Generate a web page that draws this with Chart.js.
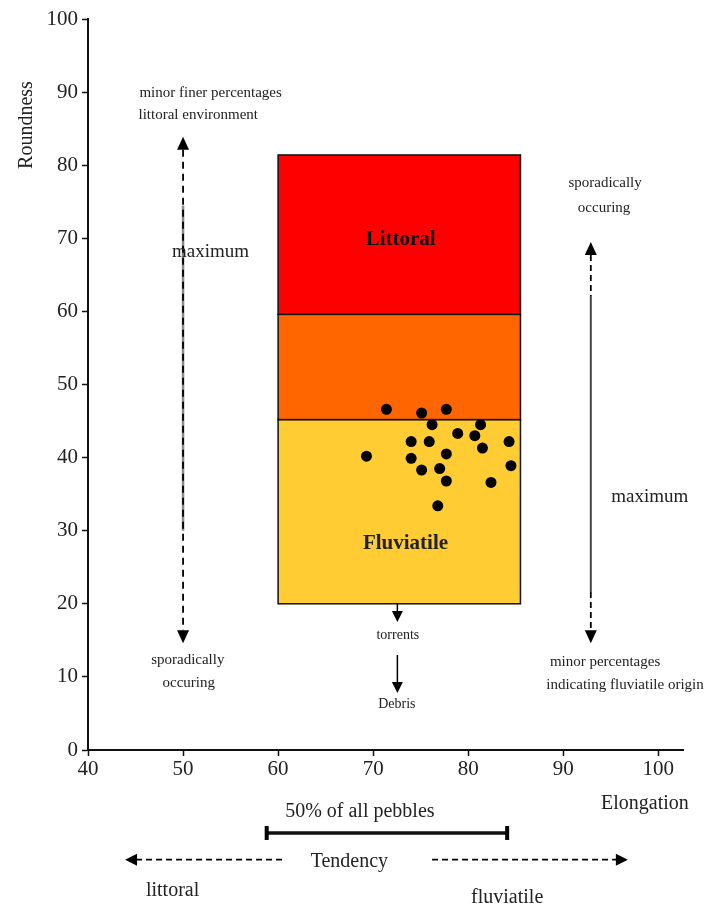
<!DOCTYPE html>
<html>
<head>
<meta charset="utf-8">
<script src="https://cdn.jsdelivr.net/npm/chart.js@4.4.1/dist/chart.umd.min.js"></script>
<style>
  body { margin: 0; background: #fff; }
  canvas { display: block; }
</style>
</head>
<body>
<canvas id="myChart" width="722" height="913"></canvas>
<script>
// pebble measurements (elongation, roundness)
var elongation = [71.4, 75.1, 77.7, 76.2, 81.3, 78.9, 80.7, 74.0, 75.9, 84.3, 81.5, 69.3, 77.7, 74.0, 75.1, 77.0, 84.5, 77.7, 82.4, 76.8];
var roundness = [46.6, 46.1, 46.6, 44.5, 44.5, 43.3, 43.0, 42.2, 42.2, 42.2, 41.3, 40.2, 40.5, 39.9, 38.3, 38.5, 38.9, 36.8, 36.6, 33.4];

var xTicks = [40, 50, 60, 70, 80, 90, 100];
var yTicks = [0, 10, 20, 30, 40, 50, 60, 70, 80, 90, 100];

// field of the box: elongation range and roundness limits of the zones
var boxRange = [60, 85.5];
var zoneEdges = [20, 45.2, 59.6, 81.4];
var zoneColors = ["#FFCC33", "#FF6600", "#FF0000"];
var zoneNames = ["Fluviatile", "", "Littoral"];

// elongation range of 50% of all pebbles
var pebbleRange = [58.8, 84.1];

var FONT = "'Liberation Serif', 'DejaVu Serif', serif";

function drawHead(ctx, x, y, dir, w, h) {
  // dir: 'up', 'down', 'left', 'right' ; (x,y) is the tip
  ctx.beginPath();
  if (dir === "up") { ctx.moveTo(x, y); ctx.lineTo(x - w / 2, y + h); ctx.lineTo(x + w / 2, y + h); }
  if (dir === "down") { ctx.moveTo(x, y); ctx.lineTo(x - w / 2, y - h); ctx.lineTo(x + w / 2, y - h); }
  if (dir === "left") { ctx.moveTo(x, y); ctx.lineTo(x + h, y - w / 2); ctx.lineTo(x + h, y + w / 2); }
  if (dir === "right") { ctx.moveTo(x, y); ctx.lineTo(x - h, y - w / 2); ctx.lineTo(x - h, y + w / 2); }
  ctx.closePath();
  ctx.fill();
}

function line(ctx, x1, y1, x2, y2, color, width, dash) {
  ctx.save();
  ctx.strokeStyle = color;
  ctx.lineWidth = width;
  ctx.setLineDash(dash || []);
  ctx.beginPath();
  ctx.moveTo(x1, y1);
  ctx.lineTo(x2, y2);
  ctx.stroke();
  ctx.restore();
}

function text(ctx, str, x, y, size, weight, color) {
  ctx.save();
  ctx.font = (weight || "normal") + " " + size + "px " + FONT;
  ctx.fillStyle = color || "#222";
  ctx.textAlign = "center";
  ctx.textBaseline = "middle";
  ctx.fillText(str, x, y);
  ctx.restore();
}

var zonesPlugin = {
  id: "zones",
  beforeDatasetsDraw: function (chart) {
    var ctx = chart.ctx, xs = chart.scales.x, ys = chart.scales.y;
    var x1 = xs.getPixelForValue(boxRange[0]), x2 = xs.getPixelForValue(boxRange[1]);
    ctx.save();
    for (var i = 0; i < zoneColors.length; i++) {
      var yb = ys.getPixelForValue(zoneEdges[i]), yt = ys.getPixelForValue(zoneEdges[i + 1]);
      ctx.fillStyle = zoneColors[i];
      ctx.fillRect(x1, yt, x2 - x1, yb - yt);
      ctx.strokeStyle = "#111";
      ctx.lineWidth = 1.5;
      ctx.strokeRect(x1, yt, x2 - x1, yb - yt);
    }
    ctx.restore();
    text(ctx, zoneNames[2], xs.getPixelForValue(72.9), ys.getPixelForValue(69.8), 21, "bold", "#111");
    text(ctx, zoneNames[0], xs.getPixelForValue(73.4), ys.getPixelForValue(28.3), 21, "bold", "#222");
  },
  afterDraw: function (chart) {
    var ctx = chart.ctx, xs = chart.scales.x, ys = chart.scales.y;
    var X = function (v) { return xs.getPixelForValue(v); };
    var Y = function (v) { return ys.getPixelForValue(v); };
    ctx.save();
    ctx.fillStyle = "#000";

    // axis titles
    ctx.save();
    ctx.translate(27, Y(85.5));
    ctx.rotate(-Math.PI / 2);
    text(ctx, "Roundness", 0, 0, 20, "normal", "#222");
    ctx.restore();
    text(ctx, "Elongation", X(98.6), Y(-7.3), 20);

    // left arrow: tendency to littoral
    var lx = X(50);
    line(ctx, lx, Y(74.5), lx, Y(30), "#888", 2.5);
    line(ctx, lx, Y(83.9) + 13, lx, Y(14.6) - 13, "#000", 1.8, [7, 5]);
    drawHead(ctx, lx, Y(83.9), "up", 12, 13);
    drawHead(ctx, lx, Y(14.6), "down", 12, 13);
    text(ctx, "minor finer percentages", X(52.9), Y(89.9), 15);
    text(ctx, "littoral environment", X(51.6), Y(86.9), 15);
    text(ctx, "maximum", X(52.9), Y(68.1), 19);
    text(ctx, "sporadically", X(50.5), Y(12.3), 15);
    text(ctx, "occuring", X(50.6), Y(9.2), 15);

    // right arrow: tendency to fluviatile
    var rx = X(92.9);
    line(ctx, rx, Y(69.5) + 13, rx, Y(62), "#000", 1.8, [6, 4]);
    line(ctx, rx, Y(62), rx, Y(21.6), "#444", 2);
    line(ctx, rx, Y(21.6), rx, Y(14.6) - 13, "#000", 1.8, [6, 4]);
    drawHead(ctx, rx, Y(69.5), "up", 12, 13);
    drawHead(ctx, rx, Y(14.6), "down", 12, 13);
    text(ctx, "sporadically", X(94.4), Y(77.6), 15);
    text(ctx, "occuring", X(94.3), Y(74.2), 15);
    text(ctx, "maximum", X(99.1), Y(34.6), 19);
    text(ctx, "minor percentages", X(94.4), Y(12.0), 15);
    text(ctx, "indicating fluviatile origin", X(96.5), Y(8.9), 15);

    // torrents / debris
    var tx = X(72.55);
    line(ctx, tx, Y(20), tx, Y(17.5) - 10, "#000", 1.5);
    drawHead(ctx, tx, Y(17.5), "down", 11, 11);
    text(ctx, "torrents", X(72.6), Y(15.7), 14);
    line(ctx, tx, Y(13.0), tx, Y(7.8) - 10, "#000", 1.5);
    drawHead(ctx, tx, Y(7.8), "down", 11, 11);
    text(ctx, "Debris", X(72.5), Y(6.2), 14);

    // 50% of all pebbles bar
    var by = Y(-11.35);
    text(ctx, "50% of all pebbles", X(68.6), Y(-8.5), 20);
    line(ctx, X(pebbleRange[0]), by, X(pebbleRange[1]), by, "#111", 3.5);
    ctx.fillRect(X(pebbleRange[0]) - 2, by - 7, 4, 14);
    ctx.fillRect(X(pebbleRange[1]) - 2, by - 7, 4, 14);

    // tendency arrows
    var ty = Y(-15.0);
    text(ctx, "Tendency", X(67.5), Y(-15.3), 20);
    line(ctx, X(43.9) + 11, ty, X(60.7), ty, "#000", 1.8, [6, 4]);
    drawHead(ctx, X(43.9), ty, "left", 12, 12);
    line(ctx, X(76.2), ty, X(96.8) - 11, ty, "#000", 1.8, [6, 4]);
    drawHead(ctx, X(96.8), ty, "right", 12, 12);
    text(ctx, "littoral", X(48.9), Y(-19.2), 20);
    text(ctx, "fluviatile", X(84.1), Y(-20.2), 20);

    ctx.restore();
  },
};

var ctx = document.getElementById("myChart").getContext("2d");
var myChart = new Chart(ctx, {
  type: "scatter",
  data: {
    datasets: [
      {
        label: "pebbles",
        data: elongation.map(function (e, i) { return { x: e, y: roundness[i] }; }),
        backgroundColor: "#000",
        borderColor: "#000",
        pointStyle: "circle",
        pointRadius: 5.5,
        borderWidth: 0,
      },
    ],
  },
  options: {
    responsive: false,
    animation: false,
    events: [],
    layout: { padding: { top: 19, right: 39, left: 0, bottom: 0 } },
    plugins: { legend: { display: false }, tooltip: { enabled: false } },
    scales: {
      x: {
        type: "linear",
        min: 40,
        max: 102.6,
        afterFit: function (scale) { scale.height = 163; },
        afterBuildTicks: function (scale) {
          scale.ticks = xTicks.map(function (v) { return { value: v }; });
        },
        border: { color: "#111", width: 2 },
        grid: { drawOnChartArea: false, tickLength: 6, tickColor: "#111", tickWidth: 1.5 },
        ticks: { font: { family: FONT, size: 21 }, color: "#222", padding: 1, maxRotation: 0 },
      },
      y: {
        type: "linear",
        min: 0,
        max: 100,
        afterFit: function (scale) { scale.width = 88; },
        afterBuildTicks: function (scale) {
          scale.ticks = yTicks.map(function (v) { return { value: v }; });
        },
        border: { color: "#111", width: 2 },
        grid: { drawOnChartArea: false, tickLength: 6, tickColor: "#111", tickWidth: 1.5 },
        ticks: { font: { family: FONT, size: 21 }, color: "#222", padding: 4 },
      },
    },
  },
  plugins: [zonesPlugin],
});
</script>
</body>
</html>
